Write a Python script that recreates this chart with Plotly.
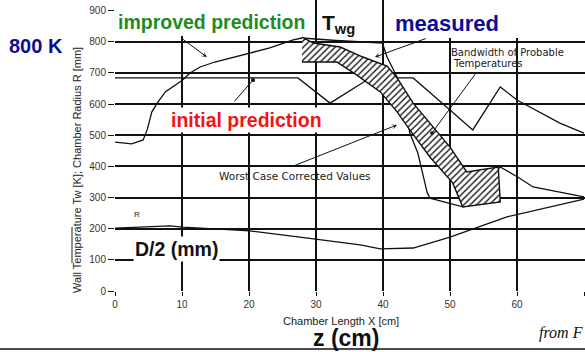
import plotly.graph_objects as go

# ---------------- data ----------------
X_TICKS = [0, 10, 20, 30, 40, 50, 60, 70]
Y_TICKS = [0, 100, 200, 300, 400, 500, 600, 700, 800, 900]
Y_GRID = [0, 100, 200, 300, 400, 500, 600, 700, 800]

# "improved prediction" wall temperature curve
Z_IMPROVED = [0, 2.5, 4.2, 4.8, 5.5, 6.3, 7.5, 9.0, 10.1, 11.2, 12.7, 14.9, 17.2,
              20.1, 23.1, 26.6, 27.9, 33.0, 37.0, 39.9, 40.6, 42.1, 43.0, 44.0,
              45.2, 46.6, 47.0, 50.0, 51.9, 57.5, 60.1, 62.4, 70.0]
T_IMPROVED = [478, 472, 485, 517, 575, 603, 639, 661, 677, 700, 719, 735, 748,
              764, 780, 806, 812, 804, 800, 796, 751, 687, 636, 507,
              443, 315, 298, 282, 270, 398, 366, 334, 302]

# "initial prediction" wall temperature curve
Z_INITIAL = [0, 27.3, 32.1, 37.6, 42.5, 44.5, 50.0, 53.4, 57.5, 60.0, 66.4, 70.0]
T_INITIAL = [684, 684, 603, 677, 684, 684, 581, 517, 655, 613, 539, 507]

# chamber radius R (D/2)
Z_RADIUS = [0, 8.2, 10.1, 20.1, 27.6, 36.6, 39.6, 44.5, 50.0, 58.5, 70.0]
R_RADIUS = [202, 209, 205, 193, 173, 148, 135, 138, 173, 238, 295]

# measured band (bandwidth of probable temperatures)
Z_BAND_UP = [27.9, 29.6, 33.6, 37.0, 40.6, 42.1, 44.5, 47.5, 50.0, 52.5, 57.2, 57.5]
T_BAND_UP = [815, 796, 783, 751, 722, 684, 603, 526, 462, 382, 398, 286]
Z_BAND_LO = [51.9, 50.4, 47.0, 44.0, 42.1, 39.6, 36.1, 33.1, 27.9]
T_BAND_LO = [270, 347, 430, 517, 575, 639, 693, 735, 735]

# ---------------- geometry helpers ----------------
W, H = 585, 352
ML, MR, MT, MB = 115, 0, 0, 61
PW, PH = W - ML - MR, H - MT - MB
XR = [0, 70.15]
YR = [0, 934]


def px(p):
    return (p - ML) / PW


def py(p):
    return (H - MB - p) / PH


LINE = dict(color="#111111", width=1.3)
SANS = "Liberation Sans, Arial, sans-serif"
DEJAVU = "DejaVu Sans, sans-serif"

fig = go.Figure()
fig.add_trace(go.Scatter(x=Z_IMPROVED, y=T_IMPROVED, mode="lines", line=LINE,
                         showlegend=False, hoverinfo="skip"))
fig.add_trace(go.Scatter(x=Z_INITIAL, y=T_INITIAL, mode="lines", line=LINE,
                         showlegend=False, hoverinfo="skip"))
fig.add_trace(go.Scatter(x=Z_RADIUS, y=R_RADIUS, mode="lines", line=LINE,
                         showlegend=False, hoverinfo="skip"))
fig.add_trace(go.Scatter(
    x=Z_BAND_UP + Z_BAND_LO, y=T_BAND_UP + T_BAND_LO, mode="lines",
    fill="toself", fillcolor="white",
    fillpattern=dict(shape="/", fgcolor="#111111", bgcolor="white",
                     size=4.5, solidity=0.3, fillmode="replace"),
    line=dict(color="#111111", width=1.4), showlegend=False, hoverinfo="skip"))
# carrier for the grid-only overlay axis
fig.add_trace(go.Scatter(x=[0], y=[0], yaxis="y2", mode="markers",
                         marker=dict(opacity=0), showlegend=False, hoverinfo="skip"))

fig.update_layout(
    width=W, height=H,
    margin=dict(l=ML, r=MR, t=MT, b=MB),
    paper_bgcolor="white", plot_bgcolor="white",
    xaxis=dict(range=XR, tickmode="array", tickvals=X_TICKS,
               ticktext=[str(v) for v in X_TICKS],
               showgrid=True, gridcolor="#111111", gridwidth=1.5,
               zeroline=False, showline=False, automargin=False,
               ticks="outside", ticklen=4, tickcolor="#111111",
               tickfont=dict(family=SANS, size=10, color="#333333")),
    yaxis=dict(range=YR, tickmode="array", tickvals=Y_TICKS,
               ticktext=[str(v) for v in Y_TICKS],
               showgrid=False, zeroline=False, showline=False, automargin=False,
               ticks="outside", ticklen=6, tickcolor="#111111",
               tickfont=dict(family=SANS, size=10, color="#333333")),
    yaxis2=dict(range=YR, overlaying="y", tickmode="array", tickvals=Y_GRID,
                showgrid=True, gridcolor="#111111", gridwidth=1.5, automargin=False,
                showticklabels=False, ticks="", zeroline=False, showline=False),
)

shapes = [
    # white label backgrounds at top
    dict(type="rect", xref="paper", yref="paper", x0=px(117), x1=px(312),
         y0=py(36), y1=1.0, fillcolor="white", line=dict(width=0), layer="above"),
    dict(type="rect", xref="paper", yref="paper", x0=px(386), x1=1.0,
         y0=py(38), y1=1.0, fillcolor="white", line=dict(width=0), layer="above"),
    # bar over "Tw" in rotated axis title
    dict(type="line", xref="paper", yref="paper", x0=px(72), x1=px(72),
         y0=py(263), y1=py(227), line=dict(color="#222222", width=1)),
    # rule under the figure
    dict(type="line", xref="paper", yref="paper", x0=px(0), x1=1.0,
         y0=py(349), y1=py(349), line=dict(color="#111111", width=1.5)),
]
fig.update_layout(shapes=shapes)

ann = []


def label(text, cx, cy, size, color="#111111", bold=True, bg=None, family=SANS,
          xanchor="center", angle=0):
    d = dict(text=(f"<b>{text}</b>" if bold else text), xref="paper", yref="paper",
             x=px(cx), y=py(cy), xanchor=xanchor, yanchor="middle", showarrow=False,
             textangle=angle, font=dict(family=family, size=size, color=color))
    if bg:
        d.update(bgcolor=bg, borderpad=1)
    ann.append(d)


label("improved prediction", 211, 22, 19.5, color="#1e8c1e")
label("measured", 447, 23, 22, color="#0c0c96")
label("800 K", 36, 46, 20, color="#0c0c96")
label("T<sub>wg</sub>", 338, 24, 21)
label("initial prediction", 246, 120, 19.5, color="#f01414", bg="white")
label("D/2 (mm)", 176, 249, 19.5, bg="white")
label("z (cm)", 346, 338, 23)
label("<i>from F</i>", 537, 333, 16, bold=False,
      family="Liberation Serif, Times New Roman, serif", xanchor="left")
label("Wall Temperature Tw [K]; Chamber Radius R [mm]", 77, 170, 11,
      color="#222222", bold=False, angle=-90)
label("Chamber Length X [cm]", 341, 321, 11, color="#222222", bold=False)
label("Worst Case Corrected Values", 295, 176, 10.5, color="#222222", bold=False,
      family=DEJAVU)
label("Bandwidth of Probable", 449, 52, 10, color="#222222", bold=False,
      family=DEJAVU, xanchor="left")
label("Temperatures", 451, 63, 10, color="#222222", bold=False,
      family=DEJAVU, xanchor="left")
label("R", 137, 214, 8, color="#222222", bold=False)

# pointer arrows (head x,y ; tail ax,ay in data units)
ARROWS = [
    (13.7, 751, 9.7, 815, 3),
    (20.6, 677, 17.6, 603, 7),
    (42.1, 533, 26.6, 401, 3),
    (47.3, 507, 54.0, 703, 6),
    (38.8, 751, 46.6, 812, 3),
]
for hx, hy, tx, ty, head in ARROWS:
    ann.append(dict(text=" ", x=hx, y=hy, ax=tx, ay=ty, xref="x", yref="y",
                    axref="x", ayref="y", showarrow=True, arrowhead=head,
                    arrowsize=0.9, arrowwidth=1, arrowcolor="#111111", standoff=0,
                    font=dict(size=1)))

fig.update_layout(annotations=ann)
fig.write_html(
    "out.html",
    config={"displayModeBar": False},
    post_script="document.body.style.margin='0';document.body.style.padding='0';",
)
